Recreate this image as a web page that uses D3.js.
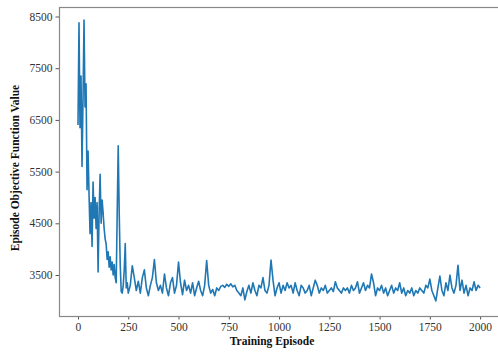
<!DOCTYPE html>
<html>
<head>
<meta charset="utf-8">
<script src="https://cdn.jsdelivr.net/npm/d3@7"></script>
<style>
  body { margin: 0; background: #fff; }
  .axisText { font-family: "Liberation Serif", "DejaVu Serif", serif; font-weight: bold; font-size: 11.5px; fill: #111; }
  .tick text { font-family: "Liberation Serif", "DejaVu Serif", serif; font-size: 11.5px; fill: #333; }
</style>
</head>
<body>
<div id="chart"></div>
<script>
// episodes 0..245 every 5, then 250..2000 every 10
let earlyValues = [
  6400, 8380, 6350, 7350, 5600, 6900, 8430, 6750, 7200, 5150,
  5900, 5050, 4300, 4900, 4050, 5300, 4600, 5000, 4400, 4900,
  3560, 4700, 5450, 4500, 4950, 4700, 4400, 4200, 4100, 3800,
  3950, 3650, 3850, 3600, 3750, 3500, 3700, 3450, 3350, 4700,
  6000, 4700, 3700, 3180, 3150, 3300, 3600, 4110, 3250, 3350
];
let lateValues = [
  3150, 3300, 3680, 3450, 3200, 3380, 3150, 3450, 3600, 3250,
  3100, 3300, 3450, 3800, 3350, 3200, 3300, 3150, 3520, 3250,
  3100, 3350, 3450, 3150, 3300, 3750, 3350, 3120, 3400, 3200,
  3300, 3150, 3350, 3100, 3250, 3380, 3200, 3100, 3300, 3780,
  3300, 3150, 3220, 3100, 3250, 3200, 3280, 3300, 3260, 3320,
  3280, 3330, 3270, 3300, 3200, 3150, 3100, 3250, 3020, 3180,
  3300, 3150, 3350, 3200, 3100, 3300, 3250, 3450, 3200, 3150,
  3300, 3790, 3400, 3100, 3250, 3350, 3150, 3300, 3200, 3350,
  3250, 3300, 3150, 3350, 3200, 3100, 3300, 3250, 3150, 3200,
  3300, 3100, 3250, 3400, 3300, 3150, 3250, 3200, 3300, 3150,
  3200, 3250, 3180, 3370, 3250, 3200, 3150, 3250, 3200, 3250,
  3150, 3300, 3200, 3250, 3370, 3150, 3250, 3350, 3200, 3300,
  3250, 3520, 3350, 3100, 3250, 3200, 3300, 3150, 3250, 3100,
  3200, 3300, 3150, 3250, 3200, 3350, 3150, 3250, 3100, 3200,
  3150, 3250, 3100, 3200, 3150, 3250, 3200, 3150, 3300, 3250,
  3420, 3200, 3100, 3000, 3250, 3480, 3200, 3100, 3350, 3200,
  3500, 3250, 3150, 3300, 3690, 3200, 3400, 3150, 3300, 3100,
  3250, 3200, 3370, 3200, 3300, 3250
];
let episodes = d3.range(0, 250, 5).concat(d3.range(250, 2001, 10));
let objective = earlyValues.concat(lateValues);
let data = episodes.map((e, i) => ({ ep: e, v: objective[i] }));

let xTicks = [0, 250, 500, 750, 1000, 1250, 1500, 1750, 2000];
let yTicks = [3500, 4500, 5500, 6500, 7500, 8500];

let svgWidth = 498;
let svgHeight = 354;
let margin = { top: 7, right: 0, bottom: 38, left: 59 };
let width = svgWidth - margin.left - margin.right;
let height = svgHeight - margin.top - margin.bottom;

let svg = d3.select("#chart")
  .append("svg")
  .attr("width", svgWidth)
  .attr("height", svgHeight);

let chartGroup = svg.append("g")
  .attr("transform", `translate(${margin.left}, ${margin.top})`);

let xScale = d3.scaleLinear()
  .domain([-94.5, 2089])
  .range([0, width]);

let yScale = d3.scaleLinear()
  .domain([2707, 8684])
  .range([height, 0]);

let bottomAxis = d3.axisBottom(xScale).tickValues(xTicks).tickFormat(d3.format("d")).tickSize(3.5).tickPadding(3);
let leftAxis = d3.axisLeft(yScale).tickValues(yTicks).tickFormat(d3.format("d")).tickSize(3.5).tickPadding(3);

let xg = chartGroup.append("g")
  .attr("transform", `translate(0, ${height})`)
  .call(bottomAxis);
let yg = chartGroup.append("g").call(leftAxis);

[xg, yg].forEach(g => {
  g.attr("font-family", null).attr("font-size", null);
  g.select(".domain").remove();
  g.selectAll(".tick line").attr("stroke", "#555");
});

// frame
chartGroup.append("rect")
  .attr("x", 0.5).attr("y", 0.5)
  .attr("width", width + 2).attr("height", height)
  .attr("fill", "none")
  .attr("stroke", "#888")
  .attr("stroke-width", 1.2);

let line = d3.line()
  .x(d => xScale(d.ep))
  .y(d => yScale(d.v));

chartGroup.append("path")
  .datum(data)
  .attr("d", line)
  .attr("fill", "none")
  .attr("stroke", "#1f77b4")
  .attr("stroke-width", 1.6)
  .attr("stroke-linejoin", "round");

chartGroup.append("text")
  .attr("transform", "rotate(-90)")
  .attr("y", 15 - margin.left)
  .attr("x", -(168 - margin.top))
  .attr("dy", "0.35em")
  .attr("class", "axisText")
  .style("text-anchor", "middle")
  .text("Episode Objective Function Value");

chartGroup.append("text")
  .attr("x", 272 - margin.left)
  .attr("y", 345 - margin.top)
  .attr("class", "axisText")
  .style("text-anchor", "middle")
  .text("Training Episode");
</script>
</body>
</html>
